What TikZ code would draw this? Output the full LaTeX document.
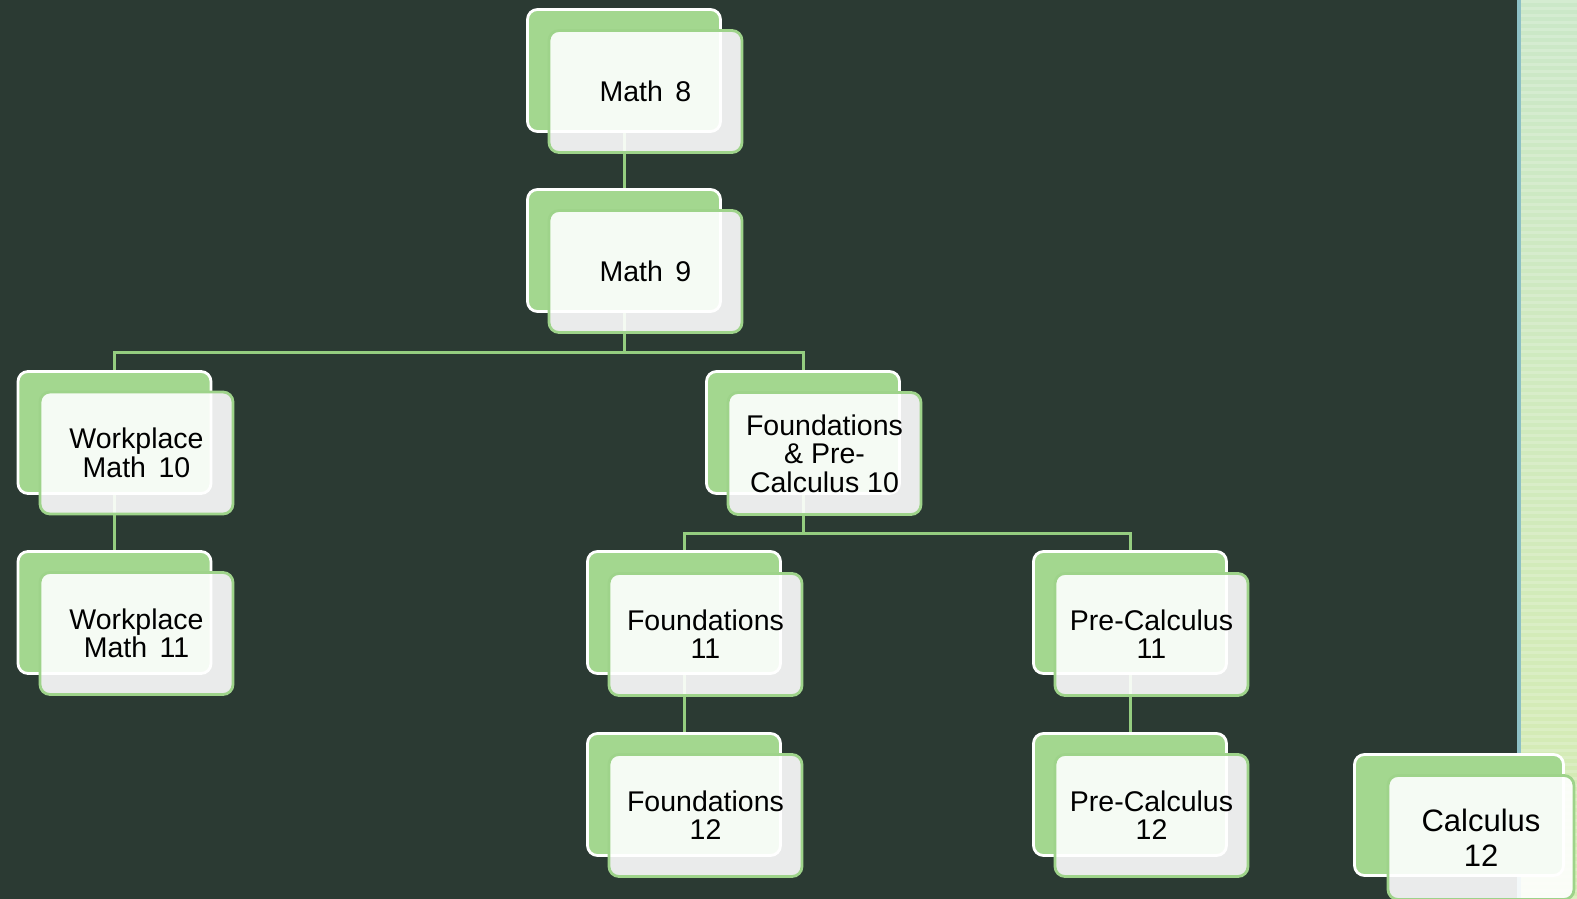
\documentclass[tikz,border=0pt]{standalone}
\usepackage{fontspec}
\setmainfont{Liberation Sans}
\usetikzlibrary{backgrounds}
\definecolor{bg}{HTML}{2B3A33}
\definecolor{leaf}{HTML}{A3D78F}
\definecolor{rim}{HTML}{9ED38A}
\definecolor{wirec}{HTML}{95CD80}
\definecolor{stripA}{HTML}{CBE8C8}
\definecolor{stripB}{HTML}{D6ECB2}
\definecolor{strand}{HTML}{8DC0C6}
\newcommand\tl[1]{\rule{0pt}{20.4pt}\smash{#1}}
\newcommand\tlc[1]{\rule{0pt}{22.2pt}\smash{#1}}
\newcommand\gap{\hspace{12.5pt}}
\tikzset{
  backbox/.style={rectangle, rounded corners=10pt, fill=leaf, draw=white,
    line width=2.8pt, minimum width=193pt, minimum height=122pt, inner sep=0pt},
  frontbox/.style={rectangle, rounded corners=10pt, fill=white, fill opacity=0.9,
    text opacity=1, draw=rim, draw opacity=1, line width=2.8pt,
    minimum width=193pt, minimum height=122pt, inner sep=0pt, align=center,
    font=\fontsize{28.5}{28.5}\selectfont, text=black},
  wire/.style={draw=wirec, line width=3pt},
}
\begin{document}
\begin{tikzpicture}[x=1pt,y=-1pt]
\useasboundingbox (0,0) rectangle (1577,899);
% boxes
\node[backbox] (m8b) at (624,70.5) {};
\node[frontbox] (m8f) at ([shift={(21.5,21)}]m8b.center) {\tl{Math\gap 8}};
\node[backbox] (m9b) at (624,250.5) {};
\node[frontbox] (m9f) at ([shift={(21.5,21)}]m9b.center) {\tl{Math\gap 9}};
\node[backbox] (wm10b) at (114.5,432.5) {};
\node[frontbox] (wm10f) at ([shift={(22,20.5)}]wm10b.center) {\tl{Workplace}\\\tl{Math\gap 10}};
\node[backbox] (fpc10b) at (803,432.5) {};
\node[frontbox] (fpc10f) at ([shift={(21.5,21)}]fpc10b.center) {\tl{Foundations}\\\tl{\& Pre-}\\\tl{Calculus 10}};
\node[backbox] (wm11b) at (114.5,612.5) {};
\node[frontbox] (wm11f) at ([shift={(22,21)}]wm11b.center) {\tl{Workplace}\\\tl{Math\gap 11}};
\node[backbox] (f11b) at (684,612.5) {};
\node[frontbox] (f11f) at ([shift={(21.5,22)}]f11b.center) {\tl{Foundations}\\\tl{11}};
\node[backbox] (pc11b) at (1130,612.5) {};
\node[frontbox] (pc11f) at ([shift={(21.5,22)}]pc11b.center) {\tl{Pre-Calculus}\\\tl{11}};
\node[backbox] (f12b) at (684,794.5) {};
\node[frontbox] (f12f) at ([shift={(21.5,21)}]f12b.center) {\tl{Foundations}\\\tl{12}};
\node[backbox] (pc12b) at (1130,794.5) {};
\node[frontbox] (pc12f) at ([shift={(21.5,21)}]pc12b.center) {\tl{Pre-Calculus}\\\tl{12}};
\node[backbox, minimum width=209pt, minimum height=121pt] (c12b) at (1459,815) {};
\node[frontbox, minimum width=186pt, minimum height=124pt,
  font=\fontsize{31}{35}\selectfont] (c12f) at (1481,837.5) {\tlc{Calculus}\\\tlc{12}};
\coordinate (j1) at (624,352);
\coordinate (j2) at (803,533);
\begin{scope}[on background layer]
  \fill[bg] (0,0) rectangle (1517,899);
  \shade[top color=stripA, bottom color=stripB] (1521,0) rectangle (1577,899);
  \foreach \yy in {0,7,...,896} \fill[white, opacity=0.18] (1521,\yy) rectangle (1577,\yy+3);
  \fill[strand] (1517,0) rectangle (1521,899);
  \draw[wire] (m8b.south) -- (m9b.north);
  \draw[wire] (m9b.south) -- (j1) -| (wm10b.north);
  \draw[wire] (j1) -| (fpc10b.north);
  \draw[wire] (wm10b.south) -- (wm11b.north);
  \draw[wire] (fpc10b.south) -- (j2) -| (f11b.north);
  \draw[wire] (j2) -| (pc11b.north);
  \draw[wire] (f11b.south) -- (f12b.north);
  \draw[wire] (pc11b.south) -- (pc12b.north);
\end{scope}
\end{tikzpicture}
\end{document}
